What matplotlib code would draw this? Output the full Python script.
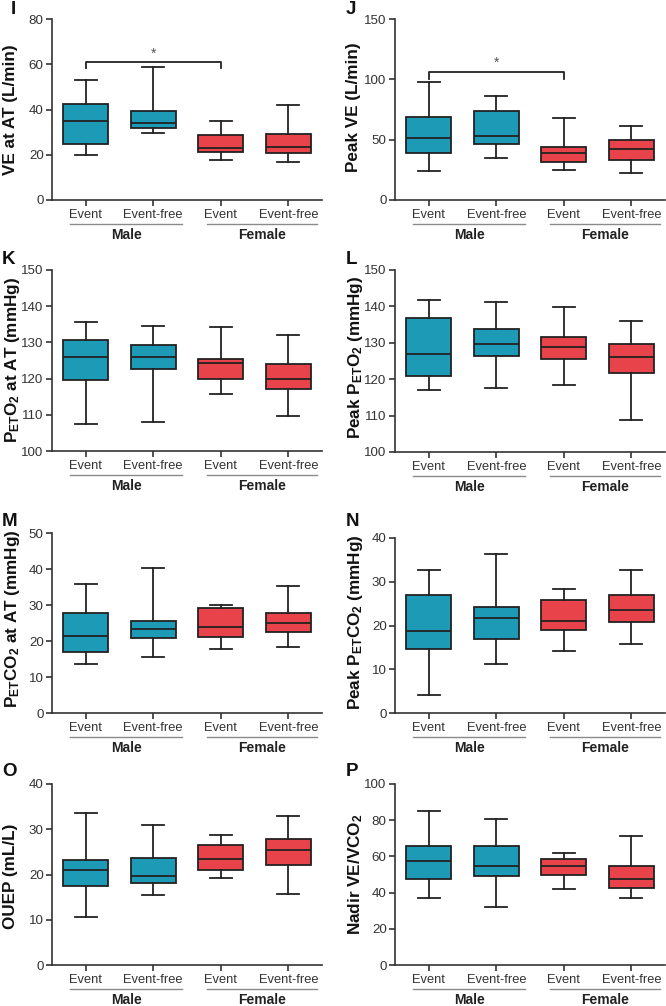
import matplotlib
matplotlib.use("Agg")
import matplotlib.pyplot as plt

plt.rcParams['font.family'] = ['Liberation Sans', 'DejaVu Sans']
plt.rcParams['mathtext.fontset'] = 'custom'
plt.rcParams['mathtext.rm'] = 'Liberation Sans'
plt.rcParams['mathtext.bf'] = 'Liberation Sans:bold'

categories = ["Event", "Event-free", "Event", "Event-free"]
groups = ["Male", "Female"]

panel_letters = ["I", "J", "K", "L", "M", "N", "O", "P"]
ylabels = [
    "VE at AT (L/min)",
    "Peak VE (L/min)",
    r"$\mathbf{P_{ET}O_2}$ at AT (mmHg)",
    r"Peak $\mathbf{P_{ET}O_2}$ (mmHg)",
    r"$\mathbf{P_{ET}CO_2}$ at AT (mmHg)",
    r"Peak $\mathbf{P_{ET}CO_2}$ (mmHg)",
    "OUEP (mL/L)",
    r"Nadir VE/VCO$\mathbf{_2}$",
]
ylims = [(0, 80), (0, 150), (100, 150), (100, 150), (0, 50), (0, 40), (0, 40), (0, 100)]
ysteps = [20, 50, 10, 10, 10, 10, 10, 20]

# per panel: [whislo, q1, median, q3, whishi] for each of the 4 boxes
I_vals = [[19.7, 24.7, 34.9, 42.3, 52.9], [29.7, 31.8, 33.9, 39.3, 58.9],
          [17.8, 21.4, 22.8, 28.7, 34.8], [16.6, 20.6, 23.4, 29.2, 42.0]]
J_vals = [[23.8, 39.2, 51.7, 68.8, 97.8], [35.1, 46.1, 52.8, 74.0, 86.2],
          [24.6, 31.2, 38.7, 43.6, 68.2], [22.1, 33.4, 42.3, 49.4, 61.3]]
K_vals = [[107.4, 119.6, 125.9, 130.7, 135.6], [108.1, 122.7, 125.9, 129.4, 134.6],
          [115.7, 120.0, 124.3, 125.5, 134.3], [109.6, 117.1, 119.9, 123.9, 132.0]]
L_vals = [[116.9, 120.9, 127.0, 136.7, 141.7], [117.6, 126.3, 129.6, 133.9, 141.3],
          [118.3, 125.5, 128.9, 131.6, 139.9], [108.8, 121.6, 126.1, 129.7, 136.1]]
M_vals = [[13.5, 16.9, 21.4, 27.7, 35.9], [15.5, 20.9, 23.3, 25.6, 40.3],
          [17.9, 21.1, 24.0, 29.1, 29.9], [18.3, 22.5, 25.0, 27.7, 35.4]]
N_vals = [[4.2, 14.6, 18.8, 26.9, 32.6], [11.3, 17.0, 21.7, 24.2, 36.4],
          [14.2, 18.9, 21.1, 25.8, 28.3], [15.8, 20.8, 23.5, 27.0, 32.6]]
O_vals = [[10.5, 17.4, 21.0, 23.3, 33.7], [15.5, 18.2, 19.6, 23.6, 31.0],
          [19.3, 21.0, 23.5, 26.5, 28.8], [15.7, 22.1, 25.4, 27.9, 33.0]]
P_vals = [[37.2, 47.5, 57.2, 65.5, 85.1], [32.3, 49.4, 54.5, 65.9, 80.6],
          [42.0, 49.5, 54.9, 58.3, 62.0], [37.1, 42.8, 47.7, 54.5, 71.4]]
all_vals = [I_vals, J_vals, K_vals, L_vals, M_vals, N_vals, O_vals, P_vals]

# significance brackets: (panel index, box a, box b, bracket level, tip length)
sig_brackets = [(0, 1, 3, 61.0, 2.8), (1, 1, 3, 106.4, 6.1)]

box_colors = ["#1d9ab5", "#1d9ab5", "#e8424a", "#e8424a"]
edge = "#222222"

W, H = 666, 1006
fig = plt.figure(figsize=(W / 100, H / 100), dpi=100)

# axes rectangles in pixels (x0, x1, ytop, ybottom)
rects = [
    (52, 322, 19, 200), (395, 665, 19, 200),
    (52, 322, 270, 451), (395, 665, 270, 452),
    (52, 322, 533, 713), (395, 665, 538, 713),
    (52, 322, 784, 965), (395, 665, 784, 965),
]
letter_pos = [(11, 9), (346, 9), (2, 259), (346, 259),
              (2, 521), (346, 522), (2, 771), (346, 771)]
# y-label left edge and vertical centre, pixels
ylabel_pos = [(3, 110), (346, 107), (3, 360), (346, 357),
              (3, 619), (346, 622), (3, 876), (346, 874)]

positions = [1, 2, 3, 4]
for i, vals in enumerate(all_vals):
    x0, x1, yt, yb = rects[i]
    ax = fig.add_axes([x0 / W, 1 - yb / H, (x1 - x0) / W, (yb - yt) / H])
    ax_h = yb - yt
    stats = []
    for v in vals:
        stats.append(dict(whislo=v[0], q1=v[1], med=v[2], q3=v[3], whishi=v[4], fliers=[]))
    bp = ax.bxp(stats, positions=positions, widths=0.66, patch_artist=True,
                showfliers=False,
                boxprops=dict(linewidth=1.3, edgecolor=edge),
                medianprops=dict(color=edge, linewidth=1.3),
                whiskerprops=dict(color=edge, linewidth=1.3),
                capprops=dict(color=edge, linewidth=1.3),
                capwidths=0.33)
    for patch, c in zip(bp['boxes'], box_colors):
        patch.set_facecolor(c)

    ax.set_xlim(0.5, 4.5)
    lo, hi = ylims[i]
    ax.set_ylim(lo, hi)
    ax.set_yticks(list(range(lo, hi + 1, ysteps[i])))
    ax.set_xticks(positions)
    ax.set_xticklabels(categories)
    for s in ["top", "right"]:
        ax.spines[s].set_visible(False)
    for s in ["left", "bottom"]:
        ax.spines[s].set_linewidth(1.2)
        ax.spines[s].set_color("#333333")
    ax.tick_params(axis='both', direction='out', length=4, width=1.2,
                   color="#333333", labelcolor="#333333")
    ax.tick_params(axis='x', pad=2.5, labelsize=9.3)
    ax.tick_params(axis='y', pad=2, labelsize=9.6)

    lx, ly = ylabel_pos[i]
    fig.text(lx / W, 1 - ly / H, ylabels[i], rotation=90, ha='left', va='center',
             fontsize=12.3, fontweight='bold', color="#111111")

    # group underline + label
    xt = ax.get_xaxis_transform()
    yline = -24 / ax_h
    ylab = -35 / ax_h
    for (a, b), g in zip([(0.77, 2.43), (2.80, 4.43)], groups):
        ax.plot([a, b], [yline, yline], color="#8a8a8a", linewidth=1.0,
                transform=xt, clip_on=False)
        ax.text((a + b) / 2, ylab, g, transform=xt, ha='center', va='center',
                fontsize=10, fontweight='bold', color="#222222")

    # panel letter
    px, py = letter_pos[i]
    fig.text(px / W, 1 - py / H, panel_letters[i], fontsize=13.5,
             fontweight='bold', ha='left', va='center', color="#111111")

    for (pi, a, b, level, tip) in sig_brackets:
        if pi == i:
            ax.plot([a, a, b, b], [level - tip, level, level, level - tip],
                    color=edge, linewidth=1.3, clip_on=False)
            ax.text((a + b) / 2, level + tip * 0.25, "*", ha='center', va='bottom',
                    fontsize=10, color="#555555")

fig.savefig("out.png", dpi=100)
